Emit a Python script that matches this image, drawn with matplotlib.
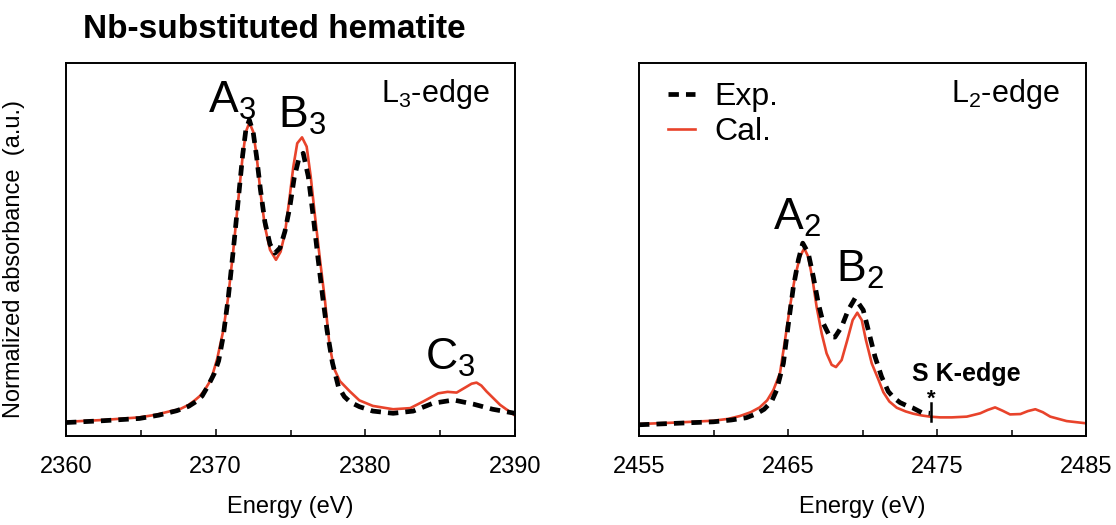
import numpy as np
import matplotlib
matplotlib.use("Agg")
import matplotlib.pyplot as plt

plt.rcParams['font.family'] = ['Liberation Sans', 'DejaVu Sans']
plt.rcParams['mathtext.default'] = 'regular'

# L3-edge (left panel)
e3_cal = [2360.0, 2362.5, 2364.9, 2366.0, 2366.9, 2367.6, 2368.2, 2368.6, 2368.95, 2369.3,
          2369.7, 2370.1, 2370.5, 2370.84, 2371.18, 2371.51, 2371.8, 2372.02, 2372.25, 2372.51,
          2372.74, 2373.0, 2373.29, 2373.63, 2374.03, 2374.34, 2374.63, 2374.92, 2375.19, 2375.45,
          2375.77, 2376.08, 2376.35, 2376.64, 2376.97, 2377.3, 2377.6, 2377.9, 2378.3, 2378.97,
          2379.6, 2380.5, 2381.86, 2383.0, 2383.87, 2384.87, 2385.5, 2386.1, 2386.77, 2387.1,
          2387.43, 2387.75, 2388.1, 2389.0, 2390.0]
a3_cal = [0.030, 0.035, 0.042, 0.049, 0.058, 0.064, 0.076, 0.088, 0.100, 0.118,
          0.145, 0.200, 0.275, 0.368, 0.495, 0.630, 0.747, 0.814, 0.839, 0.814,
          0.747, 0.648, 0.558, 0.495, 0.468, 0.490, 0.540, 0.630, 0.720, 0.783,
          0.799, 0.774, 0.693, 0.585, 0.468, 0.359, 0.240, 0.175, 0.140, 0.112,
          0.088, 0.073, 0.064, 0.067, 0.085, 0.107, 0.111, 0.109, 0.125, 0.133,
          0.136, 0.128, 0.112, 0.076, 0.047]

e3_exp = [2360.0, 2362.5, 2364.9, 2366.2, 2367.4, 2368.2, 2368.7, 2369.1, 2369.5, 2369.9,
          2370.2, 2370.5, 2370.84, 2371.18, 2371.51, 2371.8, 2372.02, 2372.25, 2372.51, 2372.74,
          2373.0, 2373.29, 2373.63, 2373.96, 2374.3, 2374.63, 2374.96, 2375.25, 2375.55, 2375.85,
          2376.19, 2376.52, 2376.85, 2377.15, 2377.45, 2377.8, 2378.2, 2378.6, 2379.0, 2379.6,
          2380.5, 2381.86, 2383.2, 2384.5, 2385.9, 2387.2, 2388.5, 2390.0]
a3_exp = [0.028, 0.033, 0.039, 0.048, 0.060, 0.072, 0.085, 0.100, 0.128, 0.160,
          0.195, 0.260, 0.365, 0.495, 0.630, 0.750, 0.820, 0.846, 0.812, 0.745,
          0.655, 0.570, 0.510, 0.486, 0.500, 0.545, 0.612, 0.690, 0.740, 0.756,
          0.693, 0.585, 0.468, 0.368, 0.275, 0.190, 0.125, 0.098, 0.083, 0.071,
          0.059, 0.053, 0.059, 0.080, 0.089, 0.078, 0.064, 0.053]

# L2-edge (right panel)
e2_cal = [2455.0, 2457.5, 2460.0, 2461.0, 2461.8, 2462.5, 2463.1, 2463.6, 2464.02, 2464.46,
          2464.8, 2465.13, 2465.47, 2465.8, 2466.09, 2466.36, 2466.65, 2466.92, 2467.26, 2467.59,
          2467.93, 2468.22, 2468.6, 2468.98, 2469.34, 2469.65, 2469.95, 2470.23, 2470.62, 2471.06,
          2471.4, 2471.8, 2472.3, 2472.9, 2473.4, 2474.0, 2474.53, 2475.2, 2476.0, 2477.0,
          2477.9, 2478.4, 2478.9, 2479.4, 2479.9, 2480.6, 2481.1, 2481.6, 2482.1, 2482.6,
          2483.7, 2485.0]
a2_cal = [0.024, 0.028, 0.033, 0.038, 0.046, 0.056, 0.069, 0.088, 0.116, 0.161,
          0.251, 0.341, 0.422, 0.476, 0.499, 0.476, 0.414, 0.341, 0.269, 0.215,
          0.184, 0.178, 0.197, 0.251, 0.305, 0.325, 0.305, 0.251, 0.188, 0.145,
          0.110, 0.085, 0.068, 0.058, 0.052, 0.047, 0.044, 0.042, 0.042, 0.044,
          0.053, 0.062, 0.069, 0.060, 0.050, 0.051, 0.059, 0.064, 0.056, 0.044,
          0.032, 0.026]

e2_exp = [2455.0, 2457.5, 2460.0, 2461.2, 2462.2, 2462.9, 2463.4, 2463.9, 2464.24, 2464.69,
          2465.03, 2465.36, 2465.7, 2465.99, 2466.36, 2466.7, 2467.03, 2467.37, 2467.81, 2468.15,
          2468.6, 2469.04, 2469.5, 2470.05, 2470.39, 2470.84, 2471.28, 2471.73, 2472.1, 2472.52,
          2473.0, 2473.4, 2473.97, 2474.53]
a2_exp = [0.022, 0.026, 0.030, 0.035, 0.041, 0.052, 0.064, 0.085, 0.116, 0.188,
          0.296, 0.395, 0.468, 0.513, 0.486, 0.422, 0.351, 0.296, 0.260, 0.259,
          0.287, 0.332, 0.364, 0.332, 0.278, 0.206, 0.152, 0.112, 0.095, 0.082,
          0.073, 0.067, 0.055, 0.053]

s_k_edge = 2474.6

ticks3 = [2360, 2370, 2380, 2390]
minor3 = [2365, 2375, 2385]
ticks2 = [2455, 2465, 2475, 2485]
minor2 = [2460, 2470, 2480]

red = '#e8432b'

fig = plt.figure(figsize=(11.16, 5.25), dpi=100)
ax1 = fig.add_axes([66 / 1116, 1 - 435.5 / 525, 449 / 1116, 372.5 / 525])
ax2 = fig.add_axes([639 / 1116, 1 - 435.5 / 525, 447 / 1116, 372.5 / 525])

panels = [(ax1, e3_cal, a3_cal, e3_exp, a3_exp, ticks3, minor3),
          (ax2, e2_cal, a2_cal, e2_exp, a2_exp, ticks2, minor2)]
for ax, ec, ac, ee, ae, tk, mn in panels:
    ax.plot(ec, ac, color=red, lw=1.9, label='Cal.', zorder=2)
    ax.plot(ee, ae, color='black', lw=3.4, dashes=(2.2, 1.5), label='Exp.', zorder=3)
    ax.set_xlim(tk[0], tk[-1])
    ax.set_ylim(-0.007, 1.0)
    ax.set_yticks([])
    ax.set_xticks(tk)
    ax.set_xticks(mn, minor=True)
    ax.tick_params(axis='x', which='both', direction='in', labelsize=17, pad=15)
    ax.tick_params(axis='x', which='major', length=5, width=1.1)
    ax.tick_params(axis='x', which='minor', length=4, width=1.1)
    for sp in ax.spines.values():
        sp.set_linewidth(1.4)
    ax.set_xlabel('Energy (eV)', fontsize=17, labelpad=13)

ax1.set_ylabel('Normalized absorbance  (a.u.)', fontsize=17)
ax1.yaxis.set_label_coords(-0.092, 0.475)

# peak labels
ax1.text(2371.1, 0.865, 'A$_{3}$', fontsize=32, ha='center', va='baseline')
ax1.text(2375.8, 0.824, 'B$_{3}$', fontsize=32, ha='center', va='baseline')
ax1.text(2385.65, 0.170, 'C$_{3}$', fontsize=32, ha='center', va='baseline')
ax2.text(2465.6, 0.549, 'A$_{2}$', fontsize=32, ha='center', va='baseline')
ax2.text(2469.8, 0.409, 'B$_{2}$', fontsize=32, ha='center', va='baseline')

ax1.text(0.944, 0.895, 'L$_{3}$-edge', fontsize=22, ha='right', va='baseline',
         transform=ax1.transAxes)
ax2.text(0.942, 0.895, 'L$_{2}$-edge', fontsize=22, ha='right', va='baseline',
         transform=ax2.transAxes)

# S K-edge marker
ax2.plot([s_k_edge, s_k_edge], [0.032, 0.081], color='black', lw=1.8)
ax2.text(s_k_edge, 0.064, '*', fontsize=16, fontweight='bold', ha='center', va='bottom')
ax2.text(2473.35, 0.139, 'S K-edge', fontsize=18, fontweight='bold', ha='left', va='baseline')

h, l = ax2.get_legend_handles_labels()
ax2.legend([h[1], h[0]], [l[1], l[0]], loc='upper left', bbox_to_anchor=(0.022, 1.0),
           frameon=False, fontsize=23, handlelength=0.85, handletextpad=0.6,
           labelspacing=0.15, borderaxespad=0.2)

fig.text(83 / 1116, 1 - 38 / 525, 'Nb-substituted hematite', fontsize=24,
         fontweight='bold', ha='left', va='baseline')

fig.savefig('out.png', dpi=100)
